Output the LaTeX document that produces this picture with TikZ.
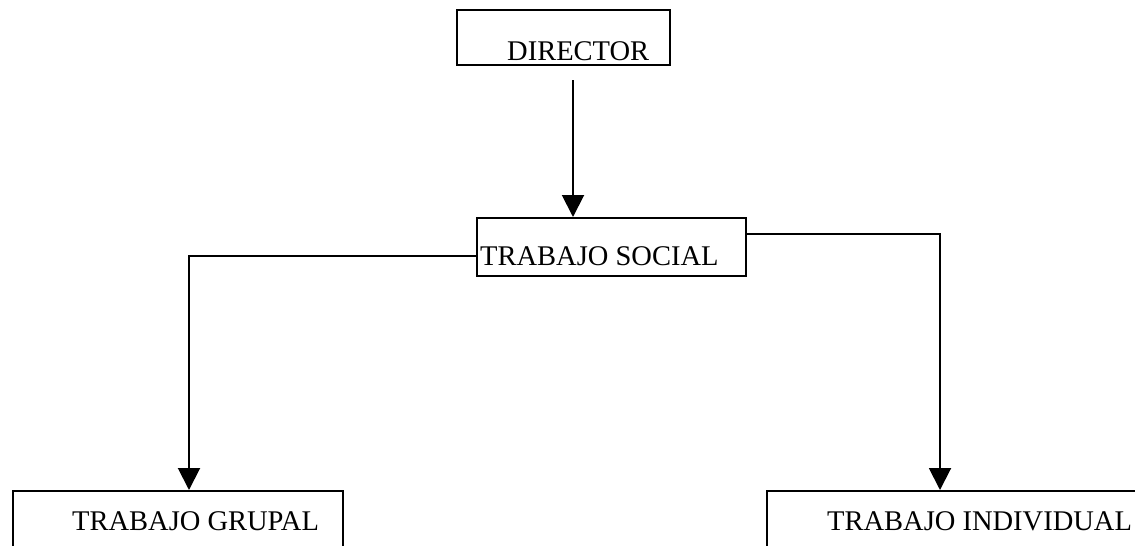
\documentclass[tikz,border=0pt]{standalone}
\usepackage{fontspec}
\setmainfont{Liberation Serif}
\usetikzlibrary{arrows.meta}
\begin{document}
\begin{tikzpicture}[x=1pt,y=-1pt,
  box/.style={draw=black, line width=2pt, rectangle, inner sep=0pt, anchor=north west},
  lbl/.style={inner sep=0pt, anchor=base west, font=\fontsize{28.5}{30}\selectfont},
  link/.style={line width=2pt, -{Triangle[length=22pt,width=22pt]}}]
\useasboundingbox (0,0) rectangle (1135,546);
\clip (0,0) rectangle (1135,546);
\fill[white] (0,0) rectangle (1135,546);

% boxes
\node[box, minimum width=213pt, minimum height=55pt] (dir) at (456,9) {};
\node[box, minimum width=269pt, minimum height=58pt] (social) at (476,217) {};
\node[box, minimum width=330pt, minimum height=120pt] (grupal) at (12,490) {};
\node[box, minimum width=400pt, minimum height=120pt] (indiv) at (766,490) {};

% labels
\node[lbl] (dirt) at (507,60) {DIRECTOR};
\node[lbl] (socialt) at (480,265) {TRABAJO SOCIAL};
\node[lbl] (grupalt) at (72,530) {TRABAJO GRUPAL};
\node[lbl] (indivt) at (827,530) {TRABAJO INDIVIDUAL};

% connectors
\coordinate (dirstub) at (573,80);
\draw[link] (dirstub) -- (dirstub |- social.north);
\draw[link] ([yshift=-9pt]social.west) -| ([xshift=11pt]grupal.north);
\draw[link] ([yshift=13pt]social.east) -| ([xshift=-27pt]indiv.north);
\end{tikzpicture}
\end{document}
